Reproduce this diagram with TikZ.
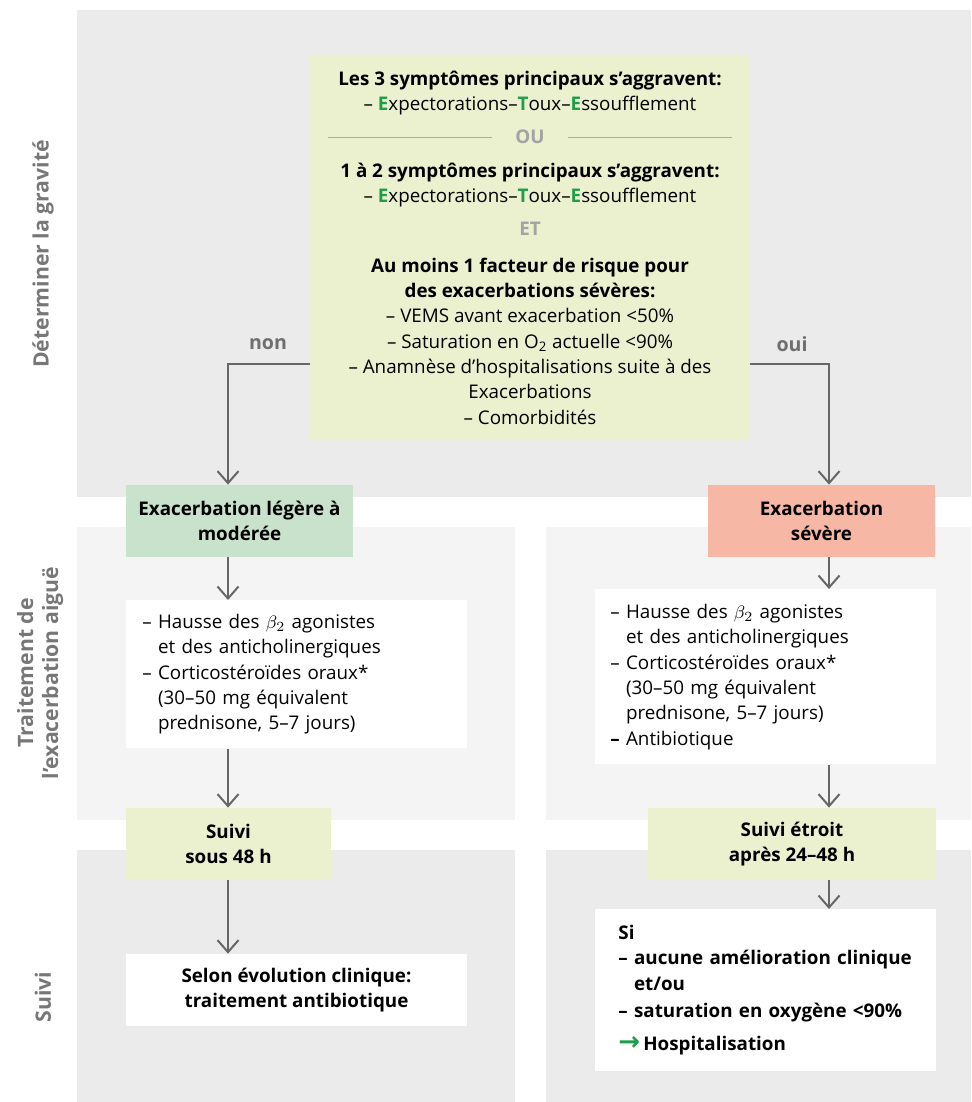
\documentclass[tikz,border=0pt]{standalone}
\usepackage{fontspec}
\setmainfont{Open Sans}
\newfontfamily\arrowfont{DejaVu Sans}
\usetikzlibrary{positioning,arrows.meta}

\definecolor{panelgrey}{HTML}{EBEBEB}
\definecolor{panellight}{HTML}{F4F4F4}
\definecolor{critfill}{HTML}{EBF0CF}
\definecolor{mildfill}{HTML}{C8E2CB}
\definecolor{severefill}{HTML}{F6B7A5}
\definecolor{letgreen}{HTML}{1E9E4B}
\definecolor{arrowgrey}{HTML}{666666}
\definecolor{labelgrey}{HTML}{6E6E6E}
\definecolor{joingrey}{HTML}{A3A3A3}
\definecolor{sidegrey}{HTML}{777777}

\newcommand{\greenlet}[1]{\textcolor{letgreen}{\textbf{#1}}}

\begin{document}
\begin{tikzpicture}[x=0.5pt, y=-0.5pt,
crittext/.style={align=center, inner sep=0pt, font=\fontsize{9.4}{12.4}\selectfont},
joinword/.style={text=joingrey, font=\bfseries\fontsize{9.4}{12}\selectfont, inner sep=0pt, minimum width=38pt},
divider/.style={draw=joingrey!90, line width=0.5pt},
branchlabel/.style={text=labelgrey, font=\bfseries\fontsize{9.8}{12}\selectfont, inner sep=0pt},
statenode/.style={rectangle, align=center, inner sep=0pt, minimum height=36pt, font=\bfseries\fontsize{9.4}{12.65}\selectfont},
listnode/.style={rectangle, fill=white, align=left, anchor=north west, inner ysep=0pt, font=\fontsize{9.4}{12.65}\selectfont},
sidelabel/.style={rotate=90, align=center, text=sidegrey, inner sep=0pt, font=\bfseries\fontsize{10.6}{12.5}\selectfont},
flow/.style={draw=arrowgrey, line width=1pt, -{Straight Barb[length=6pt,width=10.5pt]}},
]
\useasboundingbox (0,0) rectangle (971,1102);

%Panels
\fill[panelgrey] (77,10) rectangle (971,497);
\fill[panellight] (77,527) rectangle (515,820);
\fill[panellight] (546,527) rectangle (971,820);
\fill[panelgrey] (77,850) rectangle (515,1102);
\fill[panelgrey] (546,850) rectangle (971,1102);

%Side labels
\node[sidelabel] (gravlabel)  at (43,254) {Déterminer la gravité};
\node[sidelabel] (treatlabel) at (40,673) {Traitement de\\l’exacerbation aiguë};
\node[sidelabel] (suivilabel) at (43,997) {Suivi};

%Nodes
\node[rectangle, fill=critfill, anchor=north west, minimum width=219.5pt, minimum height=192pt] (crit) at (310,55) {};
\node[crittext] (sympt3) at (530,93) {\textbf{Les 3 symptômes principaux s’aggravent:}\\– \greenlet{E}xpectorations–\greenlet{T}oux–\greenlet{E}ssoufflement};
\node[joinword] (ou) at (530,137) {OU};
\node[crittext] (sympt12) at (530,185) {\textbf{1 à 2 symptômes principaux s’aggravent:}\\– \greenlet{E}xpectorations–\greenlet{T}oux–\greenlet{E}ssoufflement};
\node[joinword] (et) at (530,229) {ET};
\node[crittext, font=\fontsize{9.4}{12.65}\selectfont] (risk) at (530,341) {\textbf{Au moins 1 facteur de risque pour}\\\textbf{des exacerbations sévères:}\\– VEMS avant exacerbation <50\%\\– Saturation en O\textsubscript{2} actuelle <90\%\\– Anamnèse d’hospitalisations suite à des\\Exacerbations\\– Comorbidités};

\node[branchlabel] (non) at (268,344) {non};
\node[branchlabel] (oui) at (792,344) {oui};
\coordinate (nonbend) at (228,364);
\coordinate (ouibend) at (829,364);

\node[statenode, fill=mildfill, minimum width=113.5pt]   (mild)   at (239.5,521) {Exacerbation légère à\\modérée};
\node[statenode, fill=severefill, minimum width=113.5pt] (severe) at (821.5,521) {Exacerbation\\sévère};

\node[listnode, text width=154.5pt, inner xsep=8pt, minimum height=74pt] (treatL) at (126,600) {– Hausse des $\beta_2$ agonistes\\\phantom{– }et des anticholinergiques\\– Corticostéroïdes oraux*\\\phantom{– }(30–50 mg équivalent\\\phantom{– }prednisone, 5–7 jours)};
\node[listnode, text width=155.5pt, inner xsep=7.5pt, minimum height=87.5pt] (treatR) at (595,589) {– Hausse des $\beta_2$ agonistes\\\phantom{– }et des anticholinergiques\\– Corticostéroïdes oraux*\\\phantom{– }(30–50 mg équivalent\\\phantom{– }prednisone, 5–7 jours)\\\textbf{–} Antibiotique};

\node[statenode, fill=critfill, minimum width=102.5pt] (followL) at (228.5,844) {Suivi\\sous 48 h};
\node[statenode, fill=critfill, minimum width=144pt]   (followR) at (792,844)   {Suivi étroit\\après 24–48 h};

\node[statenode, fill=white, minimum width=170.5pt] (outcomeL) at (296.5,990) {Selon évolution clinique:\\traitement antibiotique};
\node[listnode, text width=147.5pt, inner xsep=11.5pt, minimum height=81pt, font=\bfseries\fontsize{9.4}{12.65}\selectfont] (outcomeR) at (595,909) {Si\\– aucune amélioration clinique\\\phantom{– }et/ou\\[1pt]– saturation en oxygène <90\%\\[4pt]{\arrowfont\fontsize{13}{13}\selectfont\textcolor{letgreen}{→}}\,Hospitalisation};

%Lines
\draw[divider] (ou.west) -- ([xshift=9pt]ou.west -| crit.west);
\draw[divider] (ou.east) -- ([xshift=-9pt]ou.east -| crit.east);
\draw[flow] (crit.west |- nonbend) -- (nonbend) -- (nonbend |- mild.north);
\draw[flow] (crit.east |- ouibend) -- (ouibend) -- (ouibend |- severe.north);
\draw[flow] (mild.south -| nonbend) -- (treatL.north -| nonbend);
\draw[flow] (treatL.south -| nonbend) -- (followL.north -| nonbend);
\draw[flow] (followL.south -| nonbend) -- (outcomeL.north -| nonbend);
\draw[flow] (severe.south -| ouibend) -- (treatR.north -| ouibend);
\draw[flow] (treatR.south -| ouibend) -- (followR.north -| ouibend);
\draw[flow] (followR.south -| ouibend) -- (outcomeR.north -| ouibend);

\end{tikzpicture}
\end{document}
